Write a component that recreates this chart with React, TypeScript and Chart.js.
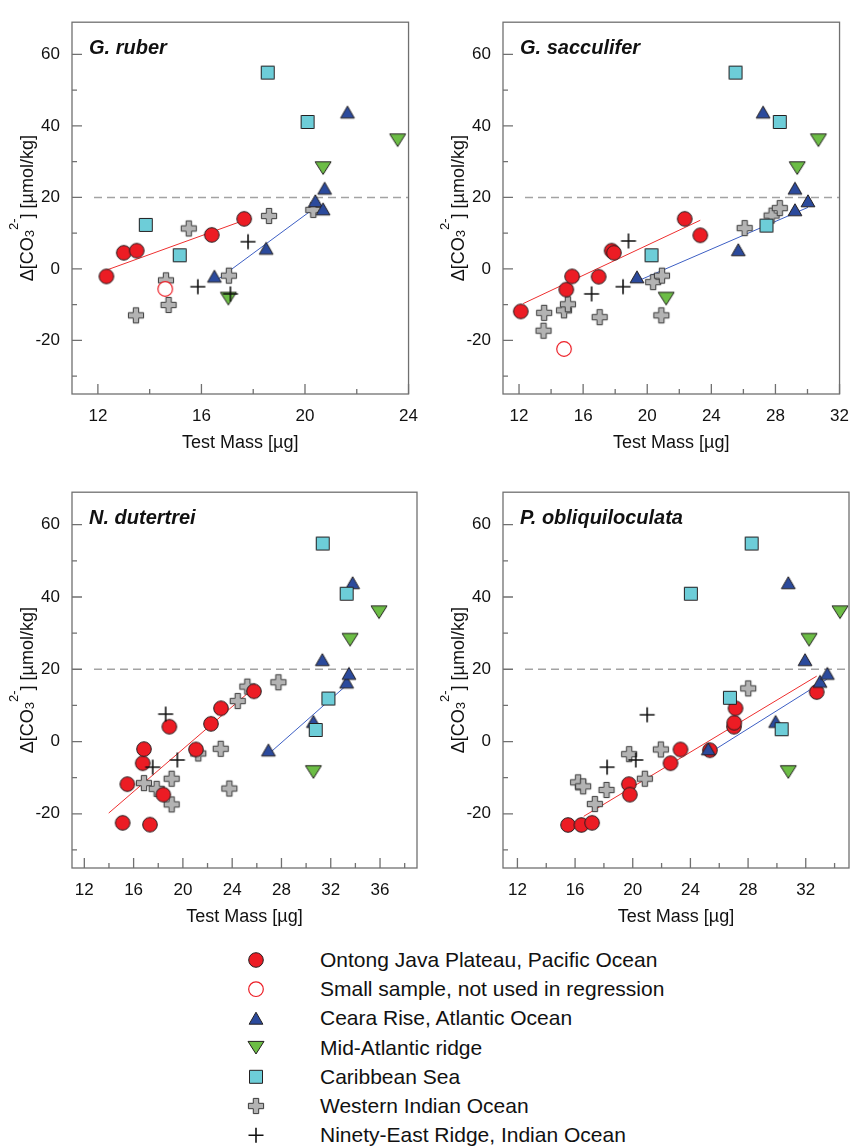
import React, { useEffect, useRef } from "react";
import { Chart, registerables } from "chart.js";

Chart.register(...registerables);

const FONT = "'Liberation Sans', Arial, Helvetica, sans-serif";

type Pt = [number, number];

// ---------- axes ----------
const X_MIN = 11;
const Y_MIN = -35;
const Y_MAX = 69;
const Y_TICKS = [-20, 0, 20, 40, 60];
const RUBER_X_TICKS = [12, 16, 20, 24];
const SACC_X_TICKS = [12, 16, 20, 24, 28, 32];
const DUT_X_TICKS = [12, 16, 20, 24, 28, 32, 36];
const OBL_X_TICKS = [12, 16, 20, 24, 28, 32];
const REF_LEVEL = 20;

// ---------- G. ruber ----------
const ruberOntong: Pt[] = [[12.33, -2.1], [13.0, 4.5], [13.5, 5.1], [16.4, 9.5], [17.65, 14.0]];
const ruberSmall: Pt[] = [[14.6, -5.6]];
const ruberCeara: Pt[] = [[16.5, -2.1], [18.5, 5.7], [20.4, 19.0], [20.7, 16.7], [20.76, 22.5], [21.64, 43.8]];
const ruberMidAtl: Pt[] = [[17.04, -8.3], [20.7, 28.2], [23.58, 36.0]];
const ruberCarib: Pt[] = [[13.85, 12.3], [15.16, 3.8], [18.56, 54.9], [20.1, 41.1]];
const ruberWestInd: Pt[] = [[13.47, -13.0], [14.63, -3.2], [14.73, -10.1], [15.51, 11.3], [17.06, -1.9], [18.61, 14.8], [20.32, 16.5]];
const ruberNinety: Pt[] = [[15.86, -5.0], [17.12, -7.0], [17.8, 7.6]];
const ruberOntongFit: Pt[] = [[12.35, -0.3], [17.5, 13.2]];
const ruberCearaFit: Pt[] = [[16.64, -2.9], [20.5, 17.7]];

// ---------- G. sacculifer ----------
const saccOntong: Pt[] = [[12.11, -11.9], [14.95, -5.8], [15.31, -2.1], [16.97, -2.2], [17.78, 5.1], [17.92, 4.5], [22.34, 14.0], [23.31, 9.4]];
const saccSmall: Pt[] = [[14.81, -22.4]];
const saccCeara: Pt[] = [[19.36, -2.3], [25.68, 5.3], [27.23, 43.8], [29.22, 22.5], [29.22, 16.5], [30.03, 19.0]];
const saccMidAtl: Pt[] = [[21.18, -8.3], [29.36, 28.2], [30.68, 36.0]];
const saccCarib: Pt[] = [[20.27, 3.8], [25.51, 54.9], [27.44, 12.1], [28.27, 41.1]];
const saccWestInd: Pt[] = [[13.57, -12.3], [13.53, -17.3], [14.81, -11.6], [15.05, -9.9], [17.03, -13.5], [20.37, -3.7], [20.92, -1.9], [20.88, -13.0], [26.08, 11.4], [27.76, 14.9], [28.27, 17.0]];
const saccNinety: Pt[] = [[16.53, -7.0], [18.49, -5.0], [18.83, 7.8]];
const saccOntongFit: Pt[] = [[12.26, -9.7], [23.31, 13.6]];
const saccCearaFit: Pt[] = [[19.5, -3.2], [30.03, 17.2]];

// ---------- N. dutertrei ----------
const dutOntong: Pt[] = [[15.11, -22.5], [15.49, -11.8], [16.74, -6.0], [16.84, -2.1], [17.33, -23.0], [18.41, -14.7], [18.9, 4.1], [21.06, -2.2], [22.28, 4.9], [23.09, 9.2], [25.77, 13.9]];
const dutSmall: Pt[] = [];
const dutCeara: Pt[] = [[26.94, -2.4], [30.59, 5.5], [31.32, 22.6], [33.29, 16.4], [33.48, 18.8], [33.78, 43.9]];
const dutMidAtl: Pt[] = [[30.59, -8.4], [33.57, 28.2], [35.92, 35.8]];
const dutCarib: Pt[] = [[30.78, 3.2], [31.35, 54.8], [31.81, 11.9], [33.29, 40.9]];
const dutWestInd: Pt[] = [[16.84, -11.5], [17.87, -13.1], [19.09, -10.3], [19.09, -17.4], [21.25, -3.3], [23.07, -2.0], [23.77, -13.0], [24.45, 11.2], [25.23, 15.2], [27.75, 16.4]];
const dutNinety: Pt[] = [[17.55, -7.1], [18.6, 7.6], [19.55, -5.1]];
const dutOntongFit: Pt[] = [[13.98, -19.8], [25.31, 13.5]];
const dutCearaFit: Pt[] = [[27.07, -3.1], [33.29, 15.6]];

// ---------- P. obliquiloculata ----------
const oblOntong: Pt[] = [[15.51, -23.1], [16.44, -23.1], [17.18, -22.5], [19.73, -11.8], [19.8, -14.7], [22.62, -6.0], [23.31, -2.2], [25.35, -2.4], [27.02, 4.1], [27.04, 5.2], [27.13, 9.2], [32.76, 13.7]];
const oblSmall: Pt[] = [];
const oblCeara: Pt[] = [[25.24, -2.1], [29.91, 5.5], [30.79, 43.9], [31.95, 22.6], [32.99, 16.6], [33.5, 18.8]];
const oblMidAtl: Pt[] = [[30.79, -8.4], [32.23, 28.2], [34.38, 35.8]];
const oblCarib: Pt[] = [[24.03, 40.9], [26.74, 12.1], [28.25, 54.8], [30.33, 3.4]];
const oblWestInd: Pt[] = [[16.21, -11.3], [16.56, -12.4], [17.37, -17.3], [18.18, -13.4], [19.75, -3.5], [20.84, -10.3], [21.95, -2.2], [28.01, 14.7]];
const oblNinety: Pt[] = [[18.22, -7.1], [20.21, -5.1], [21.0, 7.4]];
const oblOntongFit: Pt[] = [[16.6, -20.7], [32.76, 18.1]];
const oblCearaFit: Pt[] = [[25.35, -3.1], [33.45, 17.2]];

// ---------- legend ----------
const LEGEND_KINDS = ["ontong", "small", "ceara", "midatl", "carib", "westind", "ninety"];
const LEGEND_LABELS = [
  "Ontong Java Plateau, Pacific Ocean",
  "Small sample, not used in regression",
  "Ceara Rise, Atlantic Ocean",
  "Mid-Atlantic ridge",
  "Caribbean Sea",
  "Western Indian Ocean",
  "Ninety-East Ridge, Indian Ocean",
];

// ---------- styles ----------
const RED = "#ec1c24";
const BLUE = "#2b4a9c";
const GREEN = "#6cbd45";
const CYAN = "#6dcdd8";
const GRAY = "#b3b3b3";
const EDGE = "#231f20";
const RED_LINE = "#ee2f2f";
const BLUE_LINE = "#3d5fc4";
const FRAME = "#707070";
const TEXT = "#111111";

function drawMarker(ctx: CanvasRenderingContext2D, kind: string, cx: number, cy: number) {
  ctx.save();
  ctx.lineJoin = "miter";
  ctx.strokeStyle = EDGE;
  ctx.lineWidth = 1;
  ctx.beginPath();
  if (kind === "ontong" || kind === "small") {
    ctx.arc(cx, cy, 7.3, 0, Math.PI * 2);
    if (kind === "ontong") {
      ctx.fillStyle = RED;
      ctx.fill();
      ctx.stroke();
    } else {
      ctx.fillStyle = "#ffffff";
      ctx.fill();
      ctx.strokeStyle = RED;
      ctx.lineWidth = 1.2;
      ctx.stroke();
    }
  } else if (kind === "ceara") {
    ctx.moveTo(cx, cy - 6.2);
    ctx.lineTo(cx + 6.9, cy + 5.8);
    ctx.lineTo(cx - 6.9, cy + 5.8);
    ctx.closePath();
    ctx.fillStyle = BLUE;
    ctx.fill();
    ctx.stroke();
  } else if (kind === "midatl") {
    ctx.moveTo(cx - 8, cy - 6.2);
    ctx.lineTo(cx + 8, cy - 6.2);
    ctx.lineTo(cx, cy + 6.4);
    ctx.closePath();
    ctx.fillStyle = GREEN;
    ctx.fill();
    ctx.stroke();
  } else if (kind === "carib") {
    ctx.rect(cx - 6.5, cy - 6.5, 13, 13);
    ctx.fillStyle = CYAN;
    ctx.fill();
    ctx.stroke();
  } else if (kind === "westind") {
    const a = 7.6;
    const t = 2.7;
    const pts: Pt[] = [[-t, -a], [t, -a], [t, -t], [a, -t], [a, t], [t, t], [t, a], [-t, a], [-t, t], [-a, t], [-a, -t], [-t, -t]];
    pts.forEach(([px, py], i) => (i === 0 ? ctx.moveTo(cx + px, cy + py) : ctx.lineTo(cx + px, cy + py)));
    ctx.closePath();
    ctx.fillStyle = GRAY;
    ctx.fill();
    ctx.strokeStyle = "#3a3a3a";
    ctx.stroke();
  } else if (kind === "ninety") {
    ctx.moveTo(cx - 7.5, cy);
    ctx.lineTo(cx + 7.5, cy);
    ctx.moveTo(cx, cy - 7.5);
    ctx.lineTo(cx, cy + 7.5);
    ctx.strokeStyle = "#111";
    ctx.lineWidth = 1.6;
    ctx.stroke();
  }
  ctx.restore();
}

function markerImage(kind: string): HTMLCanvasElement {
  const c = document.createElement("canvas");
  c.width = 22;
  c.height = 22;
  const ctx = c.getContext("2d")!;
  drawMarker(ctx, kind, 11, 11);
  return c;
}

interface PanelSpec {
  title: string;
  left: number;
  top: number;
  width: number;
  height: number;
  areaLeft: number;
  areaTop: number;
  areaRight: number;
  areaBottom: number;
  xMax: number;
  xTicks: number[];
  ontong: Pt[];
  small: Pt[];
  ceara: Pt[];
  midatl: Pt[];
  carib: Pt[];
  westind: Pt[];
  ninety: Pt[];
  ontongFit: Pt[];
  cearaFit: Pt[];
}

const PANELS: PanelSpec[] = [
  {
    title: "G. ruber", left: 0, top: 0, width: 430, height: 470,
    areaLeft: 72, areaTop: 6, areaRight: 417, areaBottom: 394,
    xMax: 24, xTicks: RUBER_X_TICKS,
    ontong: ruberOntong, small: ruberSmall, ceara: ruberCeara, midatl: ruberMidAtl,
    carib: ruberCarib, westind: ruberWestInd, ninety: ruberNinety,
    ontongFit: ruberOntongFit, cearaFit: ruberCearaFit,
  },
  {
    title: "G. sacculifer", left: 430, top: 0, width: 431, height: 470,
    areaLeft: 73, areaTop: 6, areaRight: 419, areaBottom: 394,
    xMax: 32, xTicks: SACC_X_TICKS,
    ontong: saccOntong, small: saccSmall, ceara: saccCeara, midatl: saccMidAtl,
    carib: saccCarib, westind: saccWestInd, ninety: saccNinety,
    ontongFit: saccOntongFit, cearaFit: saccCearaFit,
  },
  {
    title: "N. dutertrei", left: 0, top: 470, width: 430, height: 470,
    areaLeft: 72, areaTop: 10, areaRight: 417, areaBottom: 398,
    xMax: 39, xTicks: DUT_X_TICKS,
    ontong: dutOntong, small: dutSmall, ceara: dutCeara, midatl: dutMidAtl,
    carib: dutCarib, westind: dutWestInd, ninety: dutNinety,
    ontongFit: dutOntongFit, cearaFit: dutCearaFit,
  },
  {
    title: "P. obliquiloculata", left: 430, top: 470, width: 431, height: 470,
    areaLeft: 73, areaTop: 10, areaRight: 419, areaBottom: 398,
    xMax: 35, xTicks: OBL_X_TICKS,
    ontong: oblOntong, small: oblSmall, ceara: oblCeara, midatl: oblMidAtl,
    carib: oblCarib, westind: oblWestInd, ninety: oblNinety,
    ontongFit: oblOntongFit, cearaFit: oblCearaFit,
  },
];

const toXY = (arr: Pt[]) => arr.map(([x, y]) => ({ x, y }));

function Panel({ spec }: { spec: PanelSpec }) {
  const ref = useRef<HTMLCanvasElement>(null);

  useEffect(() => {
    if (!ref.current) return;
    const markerSet = (data: Pt[], kind: string, order: number) => ({
      data: toXY(data),
      pointStyle: markerImage(kind) as any,
      pointRadius: 8,
      pointHoverRadius: 8,
      showLine: false,
      order,
    });
    const fitSet = (data: Pt[], color: string) => ({
      data: toXY(data),
      showLine: true,
      borderColor: color,
      borderWidth: 1,
      pointRadius: 0,
      pointHoverRadius: 0,
      fill: false,
      order: 20,
    });

    const decor = {
      id: "panelDecor",
      beforeDatasetsDraw(chart: any) {
        const { ctx, chartArea: a, scales } = chart;
        const y = scales.y.getPixelForValue(REF_LEVEL);
        ctx.save();
        ctx.strokeStyle = "#a3a3a3";
        ctx.lineWidth = 1.5;
        ctx.setLineDash([8, 5]);
        ctx.beginPath();
        ctx.moveTo(a.left + 22, y);
        ctx.lineTo(a.right, y);
        ctx.stroke();
        ctx.restore();
      },
      afterDraw(chart: any) {
        const { ctx, chartArea: a, scales } = chart;
        ctx.save();
        // frame
        ctx.strokeStyle = FRAME;
        ctx.lineWidth = 1.3;
        ctx.strokeRect(a.left, a.top, a.right - a.left, a.bottom - a.top);
        // ticks (inside)
        ctx.beginPath();
        for (let v = 12; v <= spec.xMax; v += 2) {
          const px = scales.x.getPixelForValue(v);
          const len = spec.xTicks.includes(v) ? 10 : 5;
          ctx.moveTo(px, a.bottom);
          ctx.lineTo(px, a.bottom - len);
        }
        for (let v = -30; v <= 60; v += 10) {
          const py = scales.y.getPixelForValue(v);
          const len = Y_TICKS.includes(v) ? 10 : 5;
          ctx.moveTo(a.left, py);
          ctx.lineTo(a.left + len, py);
        }
        ctx.stroke();
        // panel title
        ctx.fillStyle = TEXT;
        ctx.font = `italic bold 20px ${FONT}`;
        ctx.textAlign = "left";
        ctx.textBaseline = "middle";
        ctx.fillText(spec.title, a.left + 17, a.top + 26);
        // y title with sub/superscripts
        const pieces = [
          { t: "\u0394[CO", size: 18, dy: 0 },
          { t: "3", size: 13, dy: 1.5 },
          { t: "2-", size: 13, dy: -14.5 },
          { t: "] [\u00b5mol/kg]", size: 18, dy: 0 },
        ];
        let total = 0;
        const widths = pieces.map((p) => {
          ctx.font = `${p.size}px ${FONT}`;
          const w = ctx.measureText(p.t).width;
          total += w;
          return w;
        });
        ctx.translate(a.left - 46, (a.top + a.bottom) / 2);
        ctx.rotate(-Math.PI / 2);
        ctx.textBaseline = "alphabetic";
        let x = -total / 2;
        pieces.forEach((p, i) => {
          ctx.font = `${p.size}px ${FONT}`;
          ctx.fillText(p.t, x, 6.5 + p.dy);
          x += widths[i];
        });
        ctx.restore();
      },
    };

    const chart = new Chart(ref.current, {
      type: "scatter",
      data: {
        datasets: [
          fitSet(spec.ontongFit, RED_LINE),
          fitSet(spec.cearaFit, BLUE_LINE),
          markerSet(spec.westind, "westind", 7),
          markerSet(spec.ontong, "ontong", 6),
          markerSet(spec.small, "small", 5),
          markerSet(spec.ceara, "ceara", 4),
          markerSet(spec.midatl, "midatl", 3),
          markerSet(spec.carib, "carib", 2),
          markerSet(spec.ninety, "ninety", 1),
        ] as any,
      },
      options: {
        animation: false,
        responsive: false,
        maintainAspectRatio: false,
        events: [],
        layout: {
          padding: { top: spec.areaTop, right: spec.width - spec.areaRight, left: 0, bottom: 0 },
        },
        plugins: {
          legend: { display: false },
          tooltip: { enabled: false },
        },
        scales: {
          x: {
            type: "linear",
            min: X_MIN,
            max: spec.xMax,
            grid: { display: false, drawTicks: false },
            border: { display: false },
            ticks: {
              padding: 12,
              color: TEXT,
              font: { size: 17, family: FONT },
              maxRotation: 0,
              autoSkip: false,
            },
            afterBuildTicks: (s: any) => {
              s.ticks = spec.xTicks.map((v) => ({ value: v }));
            },
            afterFit: (s: any) => {
              s.height = spec.height - spec.areaBottom;
            },
            title: {
              display: true,
              text: "Test Mass [\u00b5g]",
              color: TEXT,
              font: { size: 18, family: FONT },
              padding: { top: 0, bottom: spec.height - (spec.areaBottom + 49.5) - 10.8 },
            },
          },
          y: {
            type: "linear",
            min: Y_MIN,
            max: Y_MAX,
            grid: { display: false, drawTicks: false },
            border: { display: false },
            ticks: {
              padding: 12,
              color: TEXT,
              font: { size: 17, family: FONT },
              autoSkip: false,
            },
            afterBuildTicks: (s: any) => {
              s.ticks = Y_TICKS.map((v) => ({ value: v }));
            },
            afterFit: (s: any) => {
              s.width = spec.areaLeft;
            },
          },
        },
      } as any,
      plugins: [decor],
    });
    return () => chart.destroy();
  }, [spec]);

  return (
    <canvas
      ref={ref}
      width={spec.width}
      height={spec.height}
      style={{ position: "absolute", left: spec.left, top: spec.top, width: spec.width, height: spec.height }}
    />
  );
}

const LEGEND_TOP = 944;
const LEGEND_ROW0 = 960;
const LEGEND_STEP = 29.2;

function Legend() {
  const ref = useRef<HTMLCanvasElement>(null);
  useEffect(() => {
    const c = ref.current;
    if (!c) return;
    const ctx = c.getContext("2d")!;
    ctx.clearRect(0, 0, c.width, c.height);
    LEGEND_KINDS.forEach((k, i) => {
      drawMarker(ctx, k, 20, LEGEND_ROW0 + i * LEGEND_STEP - LEGEND_TOP);
    });
  }, []);
  return (
    <>
      <canvas
        ref={ref}
        width={40}
        height={204}
        style={{ position: "absolute", left: 236, top: LEGEND_TOP, width: 40, height: 204 }}
      />
      {LEGEND_LABELS.map((label, i) => (
        <div
          key={label}
          style={{
            position: "absolute",
            left: 320,
            top: LEGEND_ROW0 + i * LEGEND_STEP - 12,
            height: 24,
            lineHeight: "24px",
            fontSize: 21,
            fontFamily: FONT,
            color: TEXT,
            whiteSpace: "nowrap",
          }}
        >
          {label}
        </div>
      ))}
    </>
  );
}

export default function App() {
  return (
    <div
      style={{
        position: "absolute",
        left: 0,
        top: 0,
        width: 861,
        height: 1148,
        background: "#ffffff",
        overflow: "hidden",
      }}
    >
      {PANELS.map((p) => (
        <Panel key={p.title} spec={p} />
      ))}
      <Legend />
    </div>
  );
}
